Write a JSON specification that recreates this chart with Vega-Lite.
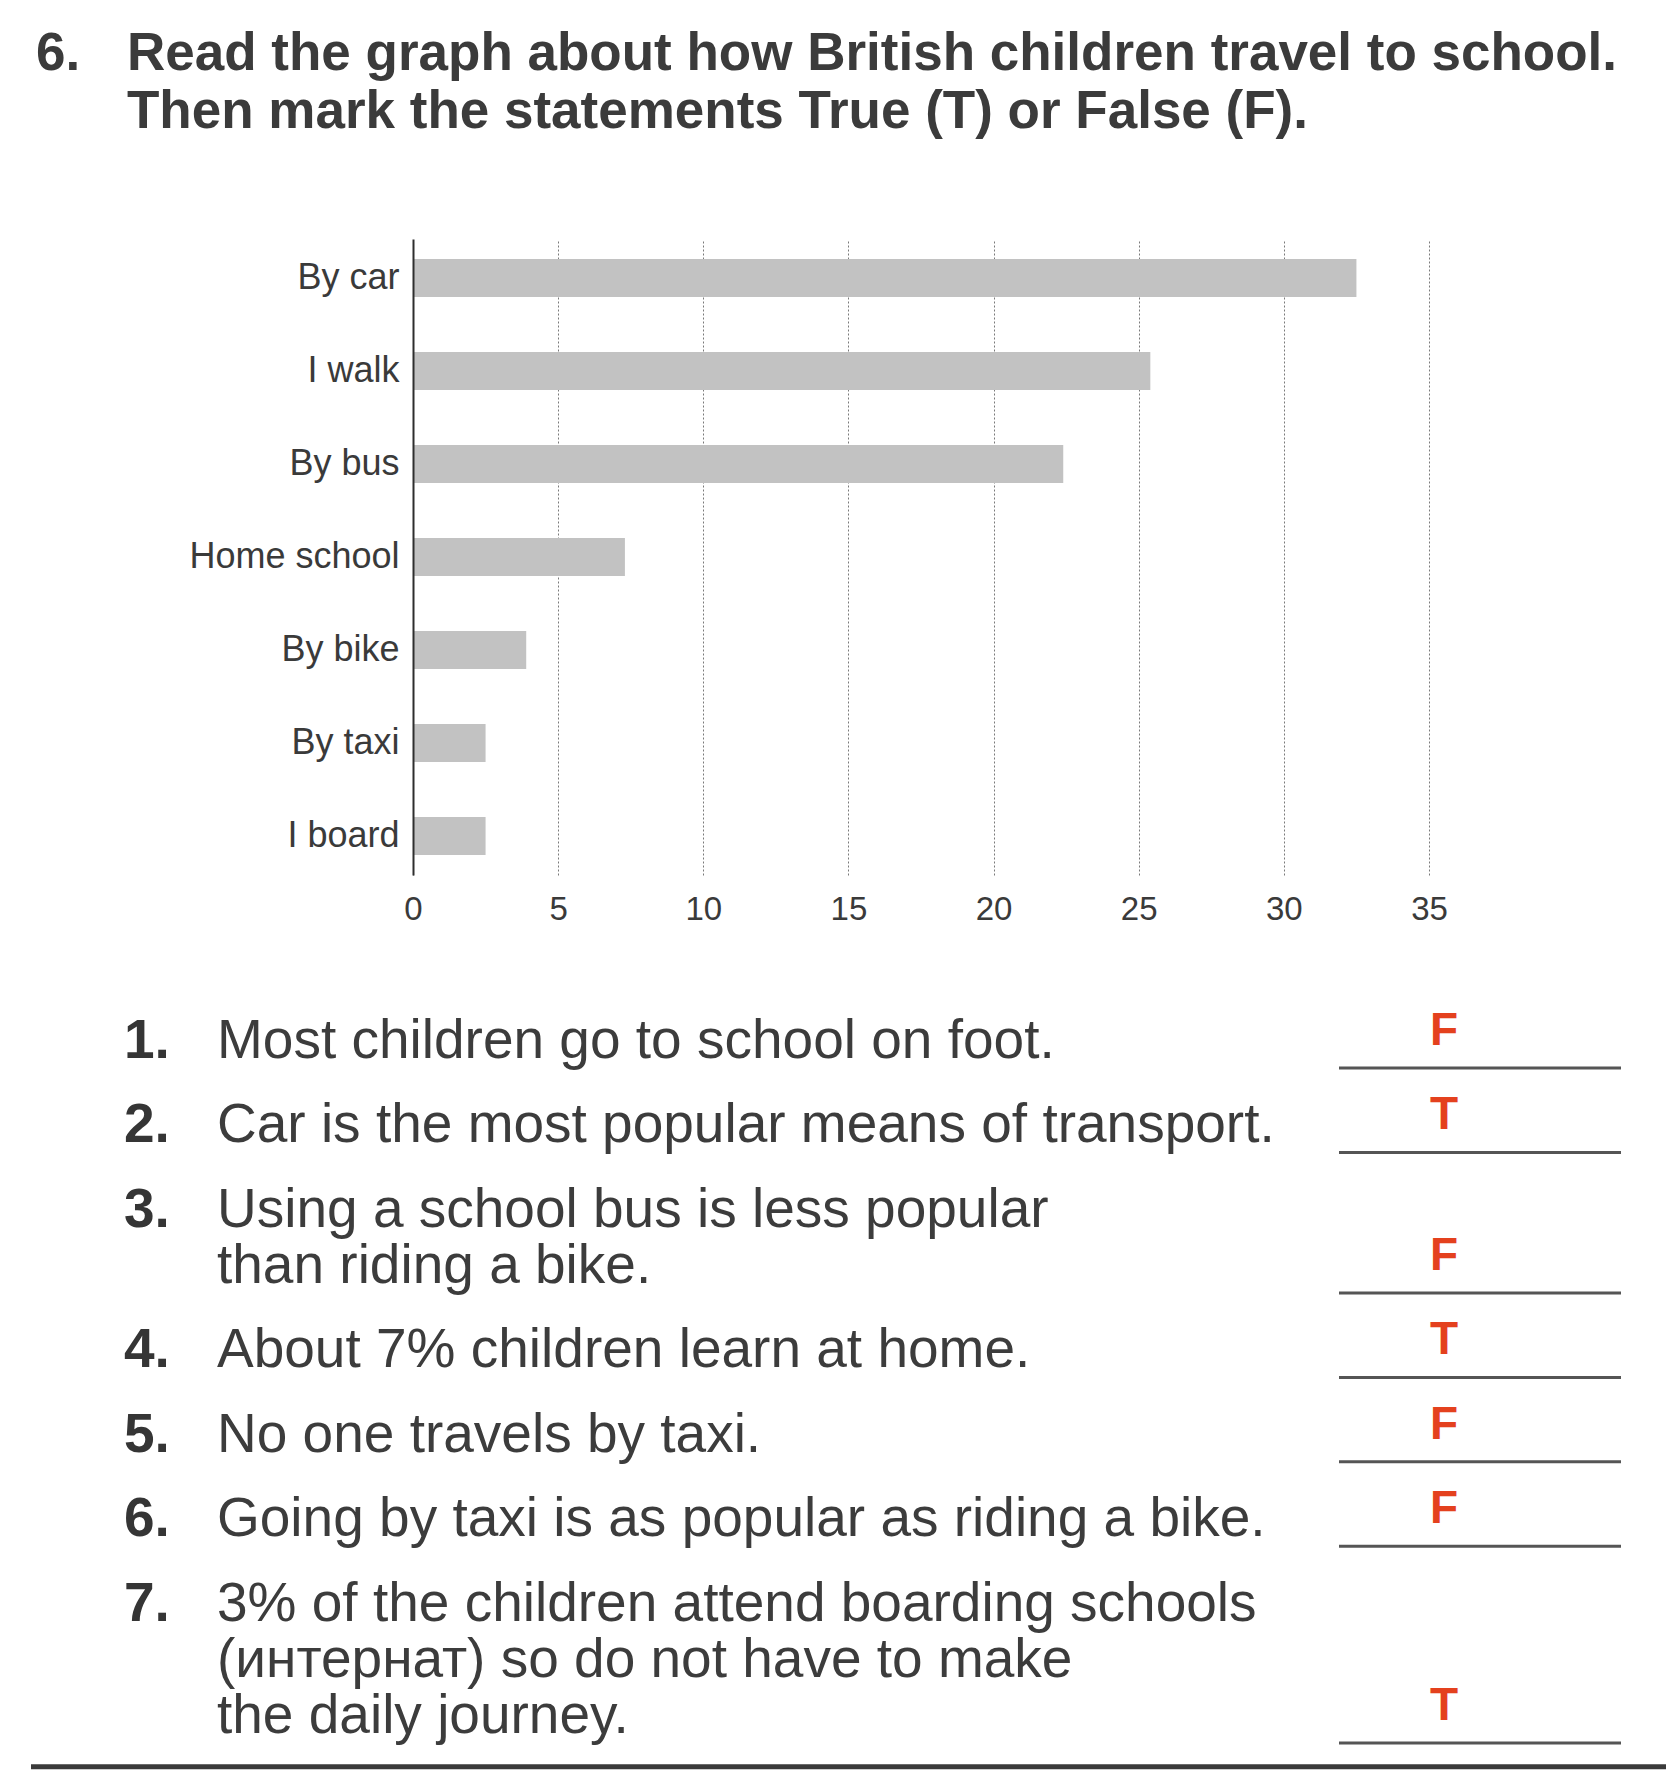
{
  "$schema": "https://vega.github.io/schema/vega-lite/v6.json",
  "background": "white",
  "padding": {"left": 28, "top": 0, "right": 0, "bottom": 0},
  "config": {"view": {"stroke": null}, "font": "Liberation Sans"},
  "datasets": {
    "header": [
      {"line": 1, "num": "6.", "text": "Read the graph about how British children travel to school."},
      {"line": 2, "num": "", "text": "Then mark the statements True (T) or False (F)."}
    ],
    "travel": [
      {"mode": "By car", "percent": 32.5},
      {"mode": "I walk", "percent": 25.4},
      {"mode": "By bus", "percent": 22.4},
      {"mode": "Home school", "percent": 7.3},
      {"mode": "By bike", "percent": 3.9},
      {"mode": "By taxi", "percent": 2.5},
      {"mode": "I board", "percent": 2.5}
    ],
    "statements": [
      {"line": 0, "num": "1.", "text": "Most children go to school on foot."},
      {"line": 3, "num": "2.", "text": "Car is the most popular means of transport."},
      {"line": 6, "num": "3.", "text": "Using a school bus is less popular"},
      {"line": 8, "num": "", "text": "than riding a bike."},
      {"line": 11, "num": "4.", "text": "About 7% children learn at home."},
      {"line": 14, "num": "5.", "text": "No one travels by taxi."},
      {"line": 17, "num": "6.", "text": "Going by taxi is as popular as riding a bike."},
      {"line": 20, "num": "7.", "text": "3% of the children attend boarding schools"},
      {"line": 22, "num": "", "text": "(интернат) so do not have to make"},
      {"line": 24, "num": "", "text": "the daily journey."}
    ],
    "answers": [
      {"item": 1, "line": 0, "answer": "F"},
      {"item": 2, "line": 3, "answer": "T"},
      {"item": 3, "line": 8, "answer": "F"},
      {"item": 4, "line": 11, "answer": "T"},
      {"item": 5, "line": 14, "answer": "F"},
      {"item": 6, "line": 17, "answer": "F"},
      {"item": 7, "line": 24, "answer": "T"}
    ]
  },
  "vconcat": [
    {
      "width": 1016,
      "height": 239,
      "data": {"name": "header"},
      "layer": [
        {
          "mark": {"type": "text", "align": "left", "baseline": "alphabetic", "fontSize": 53, "fontWeight": "bold", "color": "#3b3b3b"},
          "encoding": {
            "x": {"datum": "num", "type": "nominal", "scale": {"type": "point", "domain": ["num", "text"], "range": [-377, -286], "padding": 0}, "axis": null},
            "y": {"field": "line", "type": "quantitative", "scale": {"domain": [1, 2], "range": [70, 128], "zero": false, "nice": false}, "axis": null},
            "text": {"field": "num"}
          }
        },
        {
          "mark": {"type": "text", "align": "left", "baseline": "alphabetic", "fontSize": 53, "fontWeight": "bold", "color": "#3b3b3b"},
          "encoding": {
            "x": {"datum": "text", "type": "nominal", "scale": {"type": "point", "domain": ["num", "text"], "range": [-377, -286], "padding": 0}, "axis": null},
            "y": {"field": "line", "type": "quantitative", "scale": {"domain": [1, 2], "range": [70, 128], "zero": false, "nice": false}, "axis": null},
            "text": {"field": "text"}
          }
        }
      ]
    },
    {
      "width": 1016,
      "height": 636,
      "data": {"name": "travel"},
      "mark": {"type": "bar", "color": "#c2c2c2"},
      "encoding": {
        "y": {
          "field": "mode", "type": "nominal", "sort": null,
          "scale": {"paddingInner": 0.592, "paddingOuter": 0.215},
          "axis": {"title": null, "labelFontSize": 36, "labelLimit": 0, "labelColor": "#3a3a3a", "labelFont": "Liberation Sans", "ticks": false, "labelPadding": 14, "domainColor": "#2e2e2e", "domainWidth": 2, "grid": false, "zindex": 1}
        },
        "x": {
          "field": "percent", "type": "quantitative",
          "scale": {"domain": [0, 35], "nice": false},
          "axis": {"title": null, "values": [0, 5, 10, 15, 20, 25, 30, 35], "grid": true, "gridColor": "#7a7a7a", "gridDash": [2, 2], "gridWidth": 1, "domain": false, "ticks": false, "labelFontSize": 33, "labelPadding": 18, "labelColor": "#3a3a3a", "labelFont": "Liberation Sans", "labelFlush": false}
        }
      }
    },
    {
      "width": 1016,
      "height": 895,
      "layer": [
        {
          "data": {"name": "statements"},
          "mark": {"type": "text", "align": "left", "baseline": "alphabetic", "fontSize": 55, "fontWeight": "bold", "color": "#353535"},
          "encoding": {
            "x": {"datum": "start", "type": "nominal", "scale": {"type": "point", "domain": ["start", "answer"], "range": [-289, 1031], "padding": 0}, "axis": null},
            "y": {"field": "line", "type": "quantitative", "scale": {"domain": [0, 24], "range": [183, 858], "zero": false, "nice": false}, "axis": null},
            "text": {"field": "num"}
          }
        },
        {
          "data": {"name": "statements"},
          "mark": {"type": "text", "align": "left", "baseline": "alphabetic", "fontSize": 55, "dx": 93, "color": "#3c3c3c"},
          "encoding": {
            "x": {"datum": "start", "type": "nominal", "scale": {"type": "point", "domain": ["start", "answer"], "range": [-289, 1031], "padding": 0}, "axis": null},
            "y": {"field": "line", "type": "quantitative", "scale": {"domain": [0, 24], "range": [183, 858], "zero": false, "nice": false}, "axis": null},
            "text": {"field": "text"}
          }
        },
        {
          "data": {"name": "answers"},
          "mark": {"type": "text", "align": "center", "baseline": "alphabetic", "fontSize": 46, "fontWeight": "bold", "dy": -13, "color": "#e4411e"},
          "encoding": {
            "x": {"datum": "answer", "type": "nominal", "scale": {"type": "point", "domain": ["start", "answer"], "range": [-289, 1031], "padding": 0}, "axis": null},
            "y": {"field": "line", "type": "quantitative", "scale": {"domain": [0, 24], "range": [183, 858], "zero": false, "nice": false}, "axis": null},
            "text": {"field": "answer"}
          }
        },
        {
          "data": {"name": "answers"},
          "mark": {"type": "tick", "orient": "horizontal", "size": 282, "thickness": 3, "xOffset": 36, "yOffset": 10, "color": "#555555", "opacity": 1},
          "encoding": {
            "x": {"datum": "answer", "type": "nominal", "scale": {"type": "point", "domain": ["start", "answer"], "range": [-289, 1031], "padding": 0}, "axis": null},
            "y": {"field": "line", "type": "quantitative", "scale": {"domain": [0, 24], "range": [183, 858], "zero": false, "nice": false}, "axis": null}
          }
        },
        {
          "data": {"values": [{"edge": "page bottom"}]},
          "mark": {"type": "rule", "strokeWidth": 5, "color": "#3a3a3a", "xOffset": -93, "x2Offset": 222},
          "encoding": {
            "x": {"datum": "start", "type": "nominal", "scale": {"type": "point", "domain": ["start", "answer"], "range": [-289, 1031], "padding": 0}, "axis": null},
            "x2": {"datum": "answer"},
            "y": {"datum": 25.2, "type": "quantitative", "scale": {"domain": [0, 24], "range": [183, 858], "zero": false, "nice": false}, "axis": null}
          }
        }
      ]
    }
  ],
  "spacing": 0,
  "bounds": "flush",
  "resolve": {"scale": {"x": "independent", "y": "independent"}}
}
